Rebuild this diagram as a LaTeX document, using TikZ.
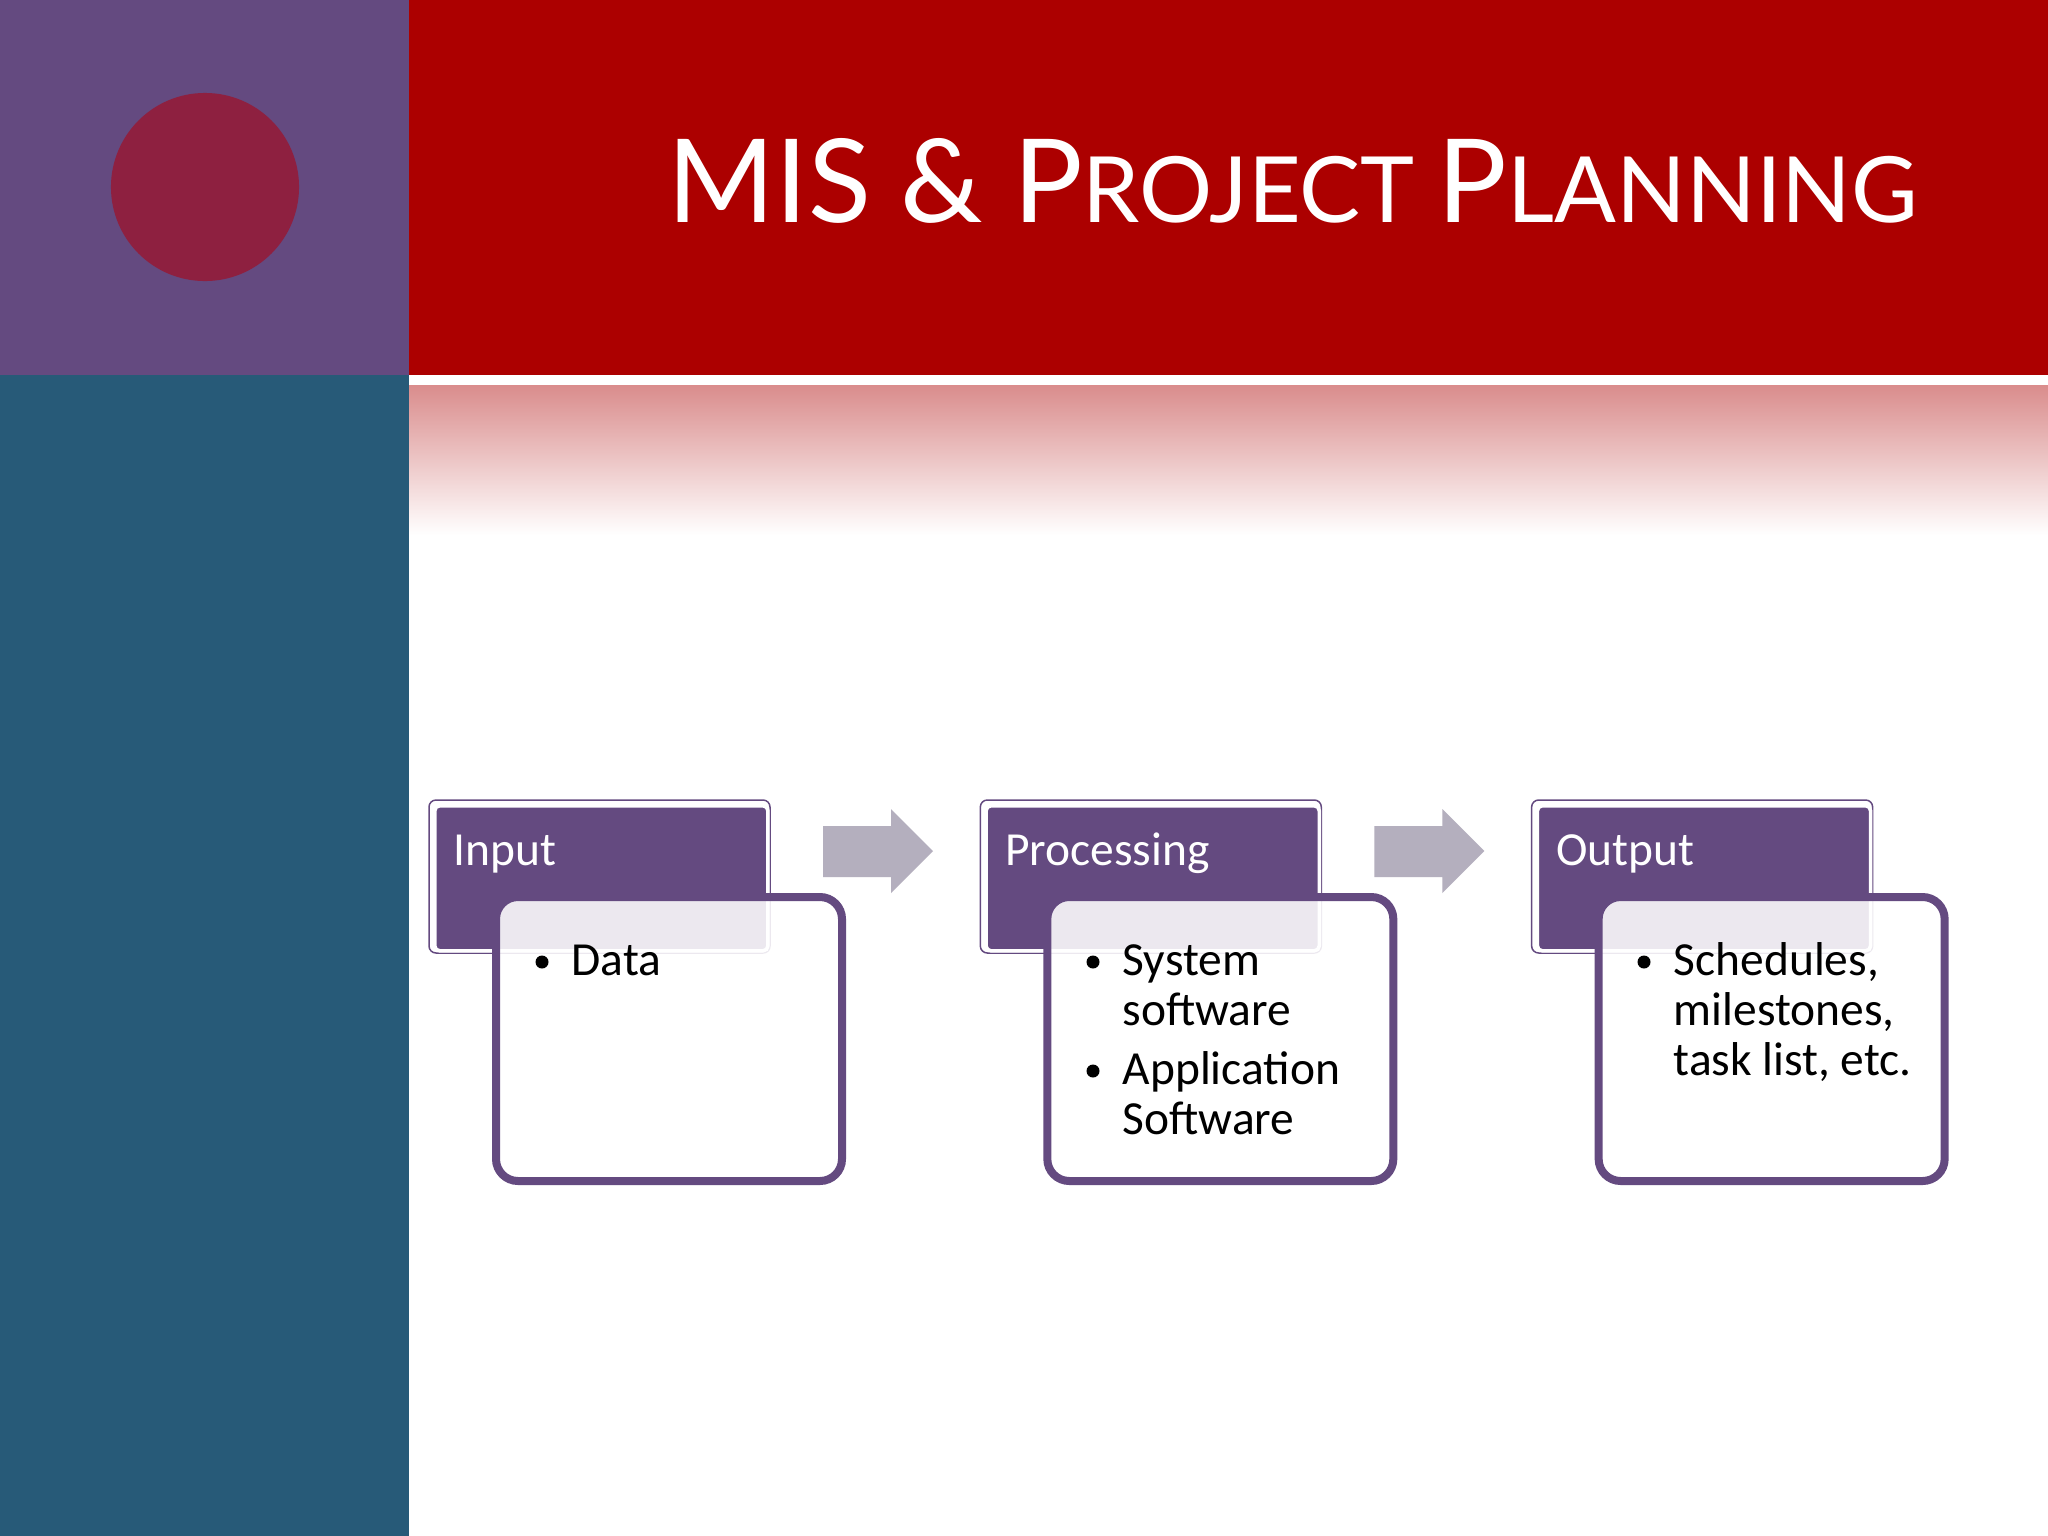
\documentclass[tikz,border=0pt]{standalone}
\usepackage{fontspec}
\setmainfont{Carlito}
\newfontfamily\titlefont{Lato}
\begin{document}
\begin{tikzpicture}[x=0.01cm,y=-0.01cm,
  hdr/.style={fill=hpurple,draw=white,line width=0.035cm,rounded corners=0.05cm},
  bodybox/.style={fill=white,fill opacity=0.88,draw=hpurple,line width=0.08cm,rounded corners=0.22cm},
  flowarrow/.style={fill=agray},
  hdrtext/.style={text=white,anchor=base west,font=\fontsize{13.5}{16}\selectfont,inner sep=0},
  btext/.style={anchor=base west,font=\fontsize{13.5}{16}\selectfont,inner sep=0},
  bul/.style={circle,fill=black,inner sep=0,minimum size=0.13cm}]
\definecolor{hpurple}{HTML}{644A80}
\definecolor{tpurple}{HTML}{644A80}
\definecolor{tred}{HTML}{AC0000}
\definecolor{tteal}{HTML}{275A78}
\definecolor{cred}{HTML}{8E2040}
\definecolor{agray}{HTML}{B4AFBE}
\useasboundingbox (0,0) rectangle (2048,1536);
\fill[white] (0,0) rectangle (2048,1536);
\fill[tpurple] (0,0) rectangle (409,375);
\fill[tred] (409,0) rectangle (2048,375);
\fill[tteal] (0,375) rectangle (409,1536);
\shade[top color=tred!45,bottom color=white] (409,385) rectangle (2048,535);
\node[circle,fill=cred,minimum size=1.88cm,inner sep=0] (circ) at (205,187) {};
\node[text=white,anchor=base,inner sep=0] (title) at (1293,222)
  {\titlefont\fontsize{33}{40}\selectfont MIS \& P\fontsize{26}{32}\selectfont ROJECT \fontsize{33}{40}\selectfont P\fontsize{26}{32}\selectfont LANNING};
\foreach \i/\name/\hd in {0/in/Input,1/pr/Processing,2/ou/Output}{
  \begin{scope}[xshift=\i*5.51cm]
    \draw[hpurple,line width=0.015cm,rounded corners=0.07cm] (429,800) rectangle (770,953);
    \node[hdr,minimum width=3.33cm,minimum height=1.45cm,anchor=north west] (h\name) at (433,804) {};
    \node[hdrtext] (ht\name) at (453,865) {\hd};
    \path[bodybox] (496,897) rectangle (842,1181);
  \end{scope}
}
\node[bul] (b1) at (542,962) {};
\node[btext] (t1) at (571,975) {Data};
\node[bul] (b2) at (1093,962) {};
\node[btext] (t2a) at (1122,975) {System};
\node[btext] (t2b) at (1122,1025) {software};
\node[bul] (b3) at (1093,1071) {};
\node[btext] (t3a) at (1122,1084) {Application};
\node[btext] (t3b) at (1122,1134) {Software};
\node[bul] (b4) at (1644,962) {};
\node[btext] (t4a) at (1673,975) {Schedules,};
\node[btext] (t4b) at (1673,1025) {milestones,};
\node[btext] (t4c) at (1673,1075) {task list, etc.};
\foreach \i in {0,1}{
  \begin{scope}[xshift=\i*5.51cm]
    \fill[flowarrow] (823,826) -- (891,826) -- (891,809) -- (933,851) -- (891,893) -- (891,877) -- (823,877) -- cycle;
  \end{scope}
}
\end{tikzpicture}
\end{document}
